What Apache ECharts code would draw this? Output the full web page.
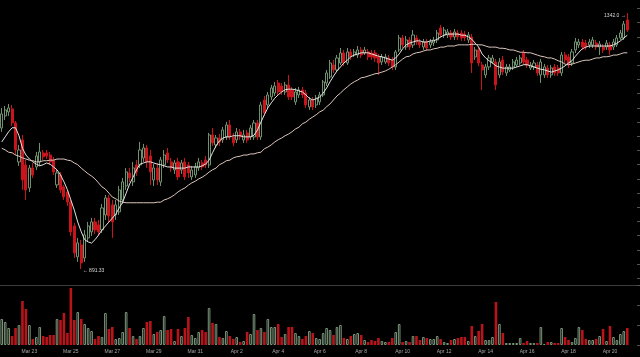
<!DOCTYPE html>
<html><head><meta charset="utf-8">
<script src="https://cdn.jsdelivr.net/npm/echarts@6/dist/echarts.min.js"></script>
<style>html,body{margin:0;padding:0;background:#000}#c{width:640px;height:357px}</style>
</head><body><div id="c"></div>
<script>
// 4-hour candles, first candle Mar 21 16:00
const openPrices = [
1139.7,1160.8,1167.9,1173.2,1148.5,1079.9,1118.6,1074.6,1034.1,1069.3,
1071.1,1079.9,1095.7,1095.7,1092.2,1083.4,1039.4,1057.0,1035.9,1027.1,
1009.5,967.2,912.7,933.8,910.9,946.1,956.7,974.3,969.0,960.2,
986.6,1016.5,1004.2,986.6,991.9,1013.0,1037.6,1060.5,1044.7,1074.6,
1074.6,1086.9,1104.5,1090.4,1048.2,1069.3,1044.7,1074.6,1095.7,1079.9,
1065.8,1079.9,1065.8,1079.9,1074.6,1053.5,1057.0,1069.3,1078.1,1083.4,
1074.6,1127.4,1109.8,1122.1,1118.6,1123.9,1145.0,1123.9,1118.6,1132.7,
1118.6,1130.9,1123.9,1123.9,1148.5,1123.9,1189.0,1180.2,1194.3,1201.3,
1218.9,1213.6,1203.1,1215.4,1206.6,1185.5,1197.8,1206.6,1201.3,1176.7,
1189.0,1180.2,1185.5,1197.8,1218.9,1229.5,1250.6,1241.8,1254.1,1271.7,
1254.1,1273.5,1268.2,1268.2,1277.0,1271.7,1273.5,1271.7,1271.7,1264.7,
1255.9,1255.9,1262.9,1259.4,1247.1,1277.0,1298.1,1282.3,1294.6,1285.8,
1298.1,1291.1,1282.3,1291.1,1285.8,1289.3,1294.6,1315.7,1303.4,1303.4,
1306.9,1299.9,1306.9,1306.9,1305.2,1294.6,1299.9,1264.7,1277.0,1250.6,
1233.0,1247.1,1255.9,1255.9,1233.0,1259.4,1236.5,1241.8,1247.1,1250.6,
1254.1,1271.7,1259.4,1245.3,1247.1,1250.6,1233.0,1233.0,1245.3,1233.0,
1247.1,1245.3,1236.5,1268.2,1264.7,1254.1,1277.0,1285.8,1291.1,1289.3,
1285.8,1285.8,1289.3,1282.3,1282.3,1282.3,1285.8,1282.3,1285.8,1298.1,
1298.1,1329.8];
const closePrices = [
1164.4,1171.4,1174.9,1148.5,1101.0,1101.0,1048.2,1030.6,1069.3,1057.0,
1090.4,1097.5,1088.7,1090.4,1079.9,1062.3,1060.5,1030.6,1018.3,1009.5,
956.7,919.7,937.3,902.1,951.4,967.2,974.3,960.2,956.7,998.9,
1016.5,984.8,974.3,1004.2,1030.6,1044.7,1062.3,1051.7,1069.3,1062.3,
1101.0,1104.5,1079.9,1062.3,1069.3,1048.2,1083.4,1092.2,1083.4,1069.3,
1078.1,1053.5,1078.1,1053.5,1060.5,1065.8,1071.1,1079.9,1071.1,1074.6,
1127.4,1113.3,1122.1,1115.1,1136.2,1145.0,1123.9,1113.3,1132.7,1123.9,
1127.4,1118.6,1139.7,1148.5,1123.9,1180.2,1166.1,1197.8,1210.1,1213.6,
1203.1,1203.1,1215.4,1194.3,1194.3,1203.1,1206.6,1197.8,1180.2,1189.0,
1176.7,1192.5,1197.8,1220.7,1236.5,1254.1,1241.8,1262.9,1271.7,1254.1,
1273.5,1264.7,1273.5,1277.0,1268.2,1277.0,1264.7,1264.7,1262.9,1254.1,
1264.7,1264.7,1254.1,1247.1,1273.5,1298.1,1285.8,1294.6,1282.3,1303.4,
1291.1,1285.8,1291.1,1280.5,1291.1,1294.6,1306.9,1303.4,1312.2,1308.7,
1299.9,1308.7,1299.9,1298.1,1298.1,1303.4,1254.1,1277.0,1254.1,1241.8,
1247.1,1262.9,1262.9,1215.4,1255.9,1238.3,1247.1,1247.1,1255.9,1259.4,
1262.9,1255.9,1250.6,1250.6,1254.1,1236.5,1255.9,1247.1,1233.0,1245.3,
1236.5,1236.5,1268.2,1259.4,1250.6,1273.5,1291.1,1291.1,1282.3,1282.3,
1291.1,1294.6,1282.3,1287.6,1277.0,1289.3,1277.0,1291.1,1298.1,1306.9,
1322.8,1312.2];
const lowPrices = [
1132.7,1153.8,1160.8,1143.2,1092.2,1072.8,1030.6,1013.0,1027.1,1051.7,
1065.8,1072.8,1083.4,1085.2,1074.6,1057.0,1034.1,1025.3,1013.0,1002.4,
949.6,910.9,903.9,891.33,903.9,939.1,949.6,953.2,949.6,954.9,
977.8,974.3,946.1,977.8,986.6,1006.0,1030.6,1044.7,1037.6,1055.2,
1069.3,1079.9,1069.3,1039.4,1037.6,1039.4,1037.6,1069.3,1078.1,1062.3,
1058.8,1048.2,1058.8,1048.2,1051.7,1048.2,1051.7,1064.0,1065.8,1069.3,
1069.3,1108.0,1104.5,1108.0,1113.3,1118.6,1118.6,1108.0,1113.3,1118.6,
1113.3,1113.3,1118.6,1118.6,1118.6,1118.6,1160.8,1174.9,1189.0,1196.0,
1197.8,1197.8,1197.8,1189.0,1189.0,1180.2,1192.5,1192.5,1174.9,1171.4,
1171.4,1174.9,1180.2,1194.3,1213.6,1226.0,1236.5,1238.3,1250.6,1248.8,
1250.6,1259.4,1264.7,1262.9,1262.9,1268.2,1259.4,1259.4,1255.9,1233.0,
1250.6,1252.4,1248.8,1241.8,1241.8,1273.5,1280.5,1277.0,1277.0,1280.5,
1285.8,1280.5,1277.0,1275.2,1280.5,1284.0,1289.3,1298.1,1298.1,1298.1,
1294.6,1294.6,1294.6,1292.8,1292.8,1289.3,1236.5,1259.4,1248.8,1206.6,
1227.7,1241.8,1252.4,1206.6,1227.7,1233.0,1231.2,1238.3,1241.8,1247.1,
1250.6,1250.6,1245.3,1241.8,1241.8,1231.2,1218.9,1227.7,1227.7,1227.7,
1231.2,1231.2,1231.2,1254.1,1245.3,1248.8,1271.7,1280.5,1277.0,1277.0,
1280.5,1280.5,1277.0,1268.2,1271.7,1277.0,1268.2,1277.0,1282.3,1294.6,
1294.6,1308.7];
const highPrices = [
1174.9,1178.4,1182.0,1180.2,1152.0,1109.8,1127.4,1083.4,1074.6,1078.1,
1097.5,1113.3,1101.0,1101.0,1097.5,1088.7,1065.8,1062.3,1039.4,1030.6,
1013.0,972.5,946.1,942.6,960.2,974.3,981.3,981.3,977.8,1006.0,
1021.8,1021.8,1013.0,1013.0,1037.6,1051.7,1069.3,1069.3,1079.9,1083.4,
1115.1,1111.6,1109.8,1101.0,1076.4,1078.1,1088.7,1101.0,1104.5,1086.9,
1083.4,1086.9,1083.4,1086.9,1079.9,1072.8,1078.1,1086.9,1083.4,1090.4,
1130.9,1139.7,1127.4,1129.2,1141.5,1150.3,1153.8,1130.9,1139.7,1138.0,
1136.2,1136.2,1145.0,1153.8,1153.8,1185.5,1196.0,1203.1,1215.4,1220.7,
1224.2,1218.9,1220.7,1233.0,1211.9,1210.1,1211.9,1211.9,1206.6,1194.3,
1194.3,1197.8,1203.1,1224.2,1241.8,1259.4,1259.4,1268.2,1280.5,1277.0,
1280.5,1278.8,1278.8,1284.0,1282.3,1282.3,1278.8,1277.0,1277.0,1270.0,
1270.0,1270.0,1268.2,1264.7,1277.0,1303.4,1303.4,1301.6,1299.9,1312.2,
1303.4,1296.4,1296.4,1296.4,1296.4,1299.9,1312.2,1321.0,1317.5,1314.0,
1312.2,1314.0,1312.2,1312.2,1310.4,1308.7,1305.2,1282.3,1282.3,1255.9,
1252.4,1268.2,1268.2,1261.2,1262.9,1266.4,1252.4,1252.4,1261.2,1264.7,
1268.2,1277.0,1264.7,1255.9,1259.4,1255.9,1261.2,1252.4,1250.6,1250.6,
1252.4,1250.6,1273.5,1273.5,1270.0,1278.8,1298.1,1296.4,1296.4,1294.6,
1296.4,1299.9,1294.6,1292.8,1287.6,1294.6,1291.1,1296.4,1303.4,1312.2,
1328.0,1342.0];
const volumes = [
2600,2300,1700,900,1700,2000,4400,3600,2000,600,
800,1800,900,800,1000,1000,2600,2500,3200,1200,
5700,2500,3300,2600,2100,1700,1400,600,900,800,
3200,1600,1800,600,700,1300,3300,1700,900,600,
900,1700,2300,2400,1100,1300,1500,2900,1500,1600,
400,1600,900,1700,2800,1000,700,1300,1500,1300,
3700,2200,2100,800,700,1400,900,600,800,300,
400,1300,1100,3100,1500,1700,1300,2600,1800,1800,
2100,800,1100,1800,1800,1200,900,600,900,1400,
1200,700,600,1200,1700,1500,1000,1800,2000,700,
600,900,1100,1200,1000,500,300,500,400,700,
400,300,300,700,1300,2100,300,400,300,900,
900,500,800,700,600,600,900,600,300,200,
500,600,700,800,800,400,1900,900,1400,2100,
500,500,800,4300,2100,1200,200,200,200,200,
700,200,400,200,200,200,1800,100,300,300,
200,200,1700,800,500,300,700,1800,1500,600,
500,500,600,900,1600,400,1900,800,500,1100,
1400,1700];
const maShort = [
1115,1124,1133,1140,1140,1126,1104,1092,1085,1080,
1076,1073,1075,1078,1076,1071,1066,1057,1045,1031,
1013,995,974,957,943,939,937,943,951,960,
967,974,981,988,999,1009,1025,1041,1053,1066,
1076,1078,1080,1080,1078,1076,1075,1073,1071,1071,
1069,1069,1069,1069,1071,1071,1071,1071,1073,1076,
1083,1096,1108,1117,1122,1124,1124,1126,1126,1126,
1124,1124,1124,1127,1136,1150,1163,1175,1184,1192,
1198,1203,1207,1208,1208,1207,1205,1203,1198,1192,
1189,1191,1194,1201,1210,1221,1231,1240,1247,1254,
1259,1265,1268,1270,1272,1272,1272,1270,1268,1266,
1265,1263,1261,1259,1263,1270,1279,1286,1289,1291,
1293,1293,1291,1291,1293,1293,1296,1300,1303,1305,
1305,1305,1305,1303,1303,1300,1296,1289,1282,1270,
1263,1258,1254,1249,1247,1245,1245,1245,1245,1247,
1249,1251,1251,1249,1247,1245,1243,1242,1240,1238,
1240,1242,1245,1249,1254,1258,1266,1273,1279,1282,
1284,1284,1284,1284,1284,1284,1284,1286,1289,1293,
1298,1303];
const maLong = [
1104,1101,1097,1096,1092,1090,1087,1085,1083,1082,
1080,1080,1082,1082,1083,1083,1085,1085,1085,1083,
1082,1078,1075,1069,1064,1059,1055,1050,1043,1036,
1032,1025,1018,1015,1011,1009,1008,1008,1008,1008,
1008,1008,1008,1008,1008,1009,1009,1013,1015,1018,
1022,1027,1031,1034,1039,1043,1046,1050,1053,1057,
1062,1066,1069,1075,1078,1082,1083,1087,1089,1090,
1092,1092,1094,1094,1096,1097,1103,1106,1110,1115,
1119,1122,1126,1129,1133,1138,1141,1147,1150,1155,
1159,1163,1168,1171,1177,1182,1189,1196,1201,1207,
1212,1217,1221,1224,1228,1229,1231,1233,1235,1236,
1238,1240,1243,1247,1251,1256,1261,1265,1266,1270,
1272,1273,1275,1277,1277,1279,1280,1282,1282,1284,
1284,1284,1286,1286,1286,1286,1287,1287,1286,1286,
1284,1282,1282,1282,1280,1280,1279,1277,1277,1275,
1273,1273,1272,1272,1270,1268,1266,1265,1263,1263,
1261,1258,1256,1252,1251,1252,1254,1256,1258,1259,
1259,1261,1263,1263,1265,1265,1266,1268,1268,1270,
1272,1272];

const monthNames = ['Jan','Feb','Mar','Apr','May','Jun','Jul','Aug','Sep','Oct','Nov','Dec'];
const startMs = Date.UTC(2017, 2, 21, 16);
const categories = openPrices.map(function (_, i) {
  const d = new Date(startMs + i * 4 * 3600 * 1000);
  const hh = d.getUTCHours();
  return monthNames[d.getUTCMonth()] + ' ' + d.getUTCDate() + ' ' + (hh < 10 ? '0' : '') + hh + ':00';
});

const candleData = openPrices.map(function (o, i) {
  return [o, closePrices[i], lowPrices[i], highPrices[i]];
});

const UP = '#6f916f', DOWN = '#c8141a', VUP = '#7b967b', VDOWN = '#b8141a';
const volData = volumes.map(function (v, i) {
  const up = closePrices[i] >= openPrices[i];
  return { value: v, itemStyle: up
    ? { color: '#000', borderColor: VUP, borderWidth: 1 }
    : { color: VDOWN, borderColor: VDOWN, borderWidth: 0 } };
});

const FONT = 'Liberation Sans, DejaVu Sans, sans-serif';
const chart = echarts.init(document.getElementById('c'), null, { renderer: 'canvas' });
chart.setOption({
  backgroundColor: '#000',
  animation: false,
  grid: [
    { left: -1, right: 11, top: 8.5, height: 269.8 },
    { left: -1, right: 11, top: 285, height: 60 },
    { left: 0, right: 0, top: 284, height: 1 }
  ],
  xAxis: [
    { type: 'category', gridIndex: 0, data: categories, show: false },
    { type: 'category', gridIndex: 1, data: categories,
      axisLine: { show: false }, axisTick: { show: false }, splitLine: { show: false },
      axisLabel: { interval: function (idx) { return idx % 12 === 8; },
        formatter: function (v) { return v.split(' ').slice(0, 2).join(' '); },
        color: '#a8a8a8', fontSize: 5, fontFamily: FONT, margin: 4 } },
    { type: 'value', gridIndex: 2, position: 'top', min: 0, max: 1,
      axisLine: { show: true, lineStyle: { color: '#3c3c3c', width: 1 } },
      axisTick: { show: false }, axisLabel: { show: false }, splitLine: { show: false } }
  ],
  yAxis: [
    { type: 'value', gridIndex: 0, position: 'right', offset: 11, min: 875, max: 1350, interval: 25,
      axisLine: { show: false }, axisLabel: { show: false }, splitLine: { show: false },
      axisTick: { show: true, inside: true, length: 3, lineStyle: { color: '#555' } } },
    { type: 'value', gridIndex: 1, position: 'right', offset: 11, min: 0, max: 6000, interval: 2000,
      axisLine: { show: false }, axisLabel: { show: false }, splitLine: { show: false },
      axisTick: { show: true, inside: true, length: 3, lineStyle: { color: '#555' } } },
    { type: 'value', gridIndex: 2, show: false }
  ],
  series: [
    { type: 'candlestick', xAxisIndex: 0, yAxisIndex: 0, data: candleData, barWidth: 2.6,
      itemStyle: { color: '#000', color0: DOWN, borderColor: UP, borderColor0: DOWN, borderWidth: 1 },
      markPoint: {
        symbol: 'rect', symbolSize: 1, itemStyle: { color: 'rgba(0,0,0,0)' },
        label: { color: '#d8d8d8', fontSize: 5, fontFamily: FONT },
        data: [
          { type: 'max', valueDim: 'highest',
            label: { position: 'left', distance: 1, offset: [0, 3],
              formatter: function (p) { return p.value.toFixed(1) + ' \u2192'; } } },
          { type: 'min', valueDim: 'lowest',
            label: { position: 'right', distance: 1, offset: [0, 2],
              formatter: function (p) { return '\u2190 ' + p.value.toFixed(2); } } }
        ]
      } },
    { type: 'line', xAxisIndex: 0, yAxisIndex: 0, data: maShort, symbol: 'none', z: 5,
      lineStyle: { color: '#e4e4e4', width: 1 } },
    { type: 'line', xAxisIndex: 0, yAxisIndex: 0, data: maLong, symbol: 'none', z: 5,
      lineStyle: { color: '#dcc6be', width: 1 } },
    { type: 'bar', xAxisIndex: 1, yAxisIndex: 1, data: volData, barWidth: 2.6 }
  ]
});
</script>
</body></html>
